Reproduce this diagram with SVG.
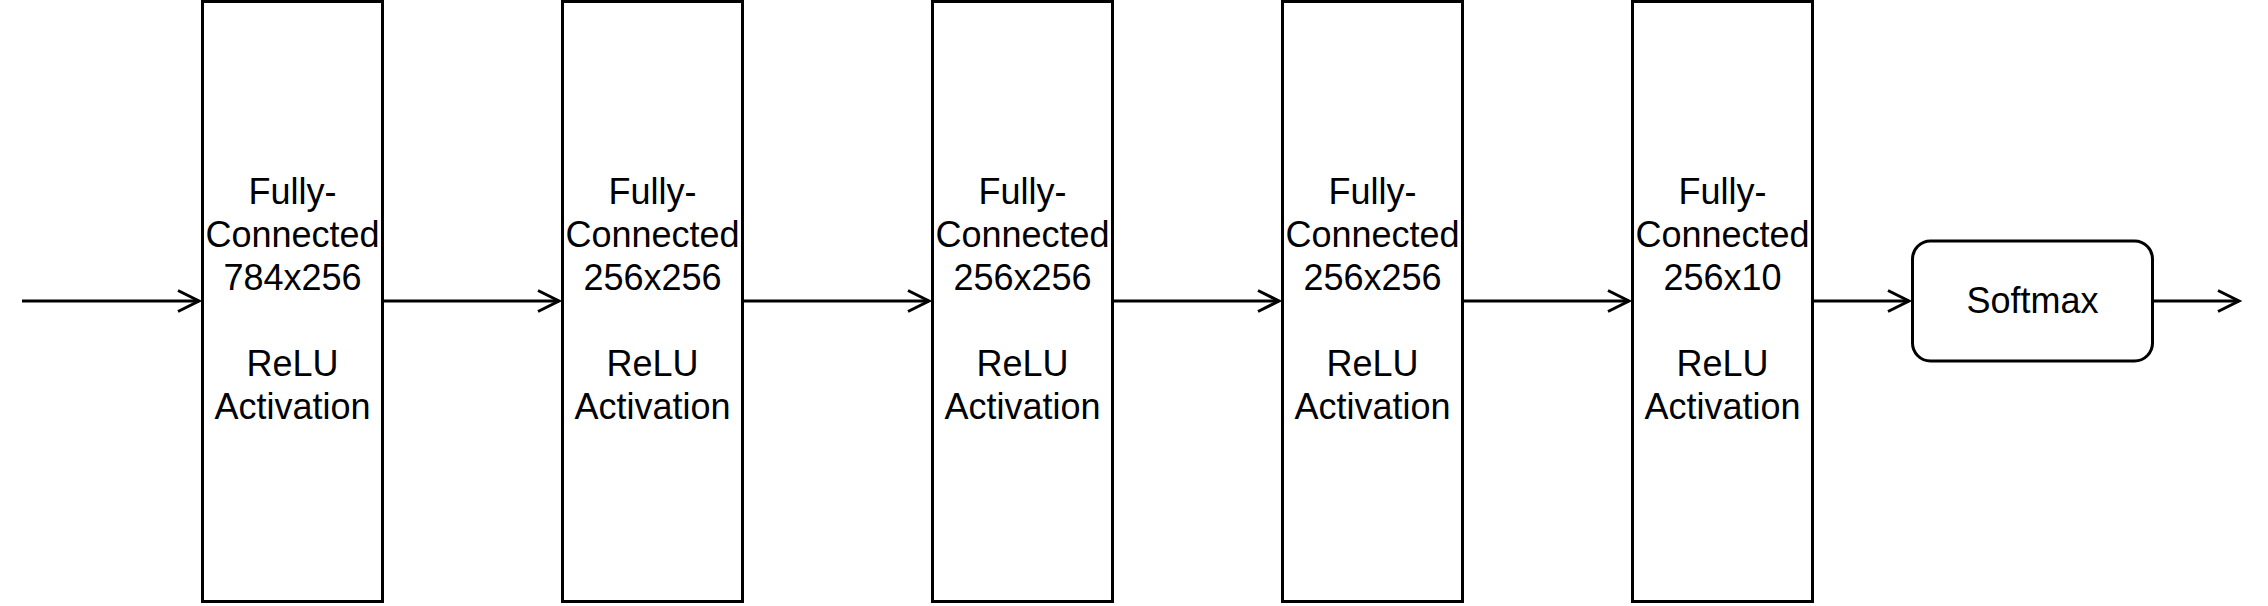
<svg xmlns="http://www.w3.org/2000/svg" width="2268" height="606" viewBox="0 0 2268 606">
<style>
.box{fill:#fff;stroke:#000;stroke-width:3}
.lbl{font-family:"Liberation Sans",Arial,sans-serif;font-size:36px;fill:#000;text-anchor:middle}
.edge{fill:none;stroke:#000;stroke-width:3}
</style>
<defs>
<marker id="arr" markerUnits="userSpaceOnUse" markerWidth="40" markerHeight="40" viewBox="-30 -20 40 40" refX="0" refY="0" orient="auto" overflow="visible">
<path d="M-21,-10.5 L0,0 L-21,10.5" fill="none" stroke="#000" stroke-width="3" stroke-linejoin="miter"/>
</marker>
</defs>
<rect width="2268" height="606" fill="#fff"/>
<g id="connectors">
<path class="edge" d="M22,301 L199,301" marker-end="url(#arr)"/>
<path class="edge" d="M382.5,301 L559,301" marker-end="url(#arr)"/>
<path class="edge" d="M742.5,301 L929,301" marker-end="url(#arr)"/>
<path class="edge" d="M1112.5,301 L1279,301" marker-end="url(#arr)"/>
<path class="edge" d="M1462.5,301 L1629,301" marker-end="url(#arr)"/>
<path class="edge" d="M1812.5,301 L1909,301" marker-end="url(#arr)"/>
<path class="edge" d="M2152.5,301 L2239,301" marker-end="url(#arr)"/>
</g>
<g id="fc1">
<rect class="box" x="202.5" y="1.5" width="180" height="600"/>
<text class="lbl"><tspan x="292.5" y="204">Fully-</tspan><tspan x="292.5" y="247">Connected</tspan><tspan x="292.5" y="290">784x256</tspan><tspan x="292.5" y="376">ReLU</tspan><tspan x="292.5" y="419">Activation</tspan></text>
</g>
<g id="fc2">
<rect class="box" x="562.5" y="1.5" width="180" height="600"/>
<text class="lbl"><tspan x="652.5" y="204">Fully-</tspan><tspan x="652.5" y="247">Connected</tspan><tspan x="652.5" y="290">256x256</tspan><tspan x="652.5" y="376">ReLU</tspan><tspan x="652.5" y="419">Activation</tspan></text>
</g>
<g id="fc3">
<rect class="box" x="932.5" y="1.5" width="180" height="600"/>
<text class="lbl"><tspan x="1022.5" y="204">Fully-</tspan><tspan x="1022.5" y="247">Connected</tspan><tspan x="1022.5" y="290">256x256</tspan><tspan x="1022.5" y="376">ReLU</tspan><tspan x="1022.5" y="419">Activation</tspan></text>
</g>
<g id="fc4">
<rect class="box" x="1282.5" y="1.5" width="180" height="600"/>
<text class="lbl"><tspan x="1372.5" y="204">Fully-</tspan><tspan x="1372.5" y="247">Connected</tspan><tspan x="1372.5" y="290">256x256</tspan><tspan x="1372.5" y="376">ReLU</tspan><tspan x="1372.5" y="419">Activation</tspan></text>
</g>
<g id="fc5">
<rect class="box" x="1632.5" y="1.5" width="180" height="600"/>
<text class="lbl"><tspan x="1722.5" y="204">Fully-</tspan><tspan x="1722.5" y="247">Connected</tspan><tspan x="1722.5" y="290">256x10</tspan><tspan x="1722.5" y="376">ReLU</tspan><tspan x="1722.5" y="419">Activation</tspan></text>
</g>
<g id="softmax">
<rect class="box" x="1912.5" y="241" width="240" height="120" rx="18" ry="18"/>
<text class="lbl" x="2032.5" y="313">Softmax</text>
</g>
</svg>
